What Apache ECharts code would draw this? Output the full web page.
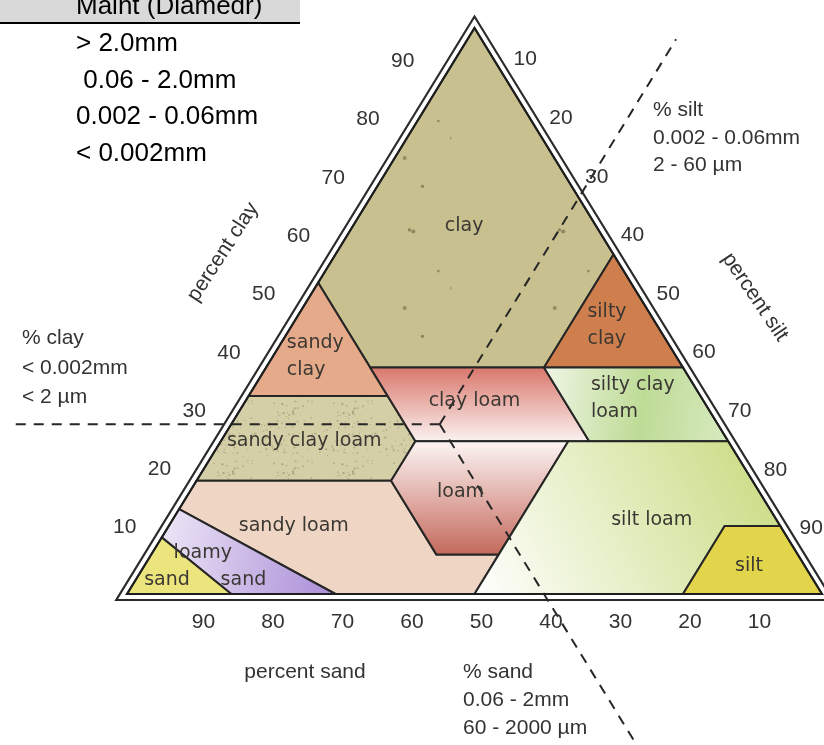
<!DOCTYPE html>
<html>
<head>
<meta charset="utf-8">
<script src="https://cdn.jsdelivr.net/npm/echarts@6/dist/echarts.min.js"></script>
<style>
  html, body { margin: 0; padding: 0; background: #fff; }
  #main { width: 824px; height: 745px; }
</style>
</head>
<body>
<div id="main"></div>
<script>
// texture classes; every corner is [sand %, clay %], silt = 100 - sand - clay
const clayArea          = [[45, 55], [0, 100], [0, 60], [20, 40], [45, 40]];
const sandyClayArea     = [[65, 35], [45, 55], [45, 35]];
const siltyClayArea     = [[20, 40], [0, 60], [0, 40]];
const sandyClayLoamArea = [[80, 20], [65, 35], [45, 35], [45, 27], [52, 20]];
const clayLoamArea      = [[45, 40], [20, 40], [20, 27], [45, 27]];
const siltyClayLoamArea = [[20, 40], [0, 40], [0, 27], [20, 27]];
const sandyLoamArea     = [[85, 15], [80, 20], [52, 20], [52, 7], [43, 7], [50, 0], [70, 0]];
const loamArea          = [[45, 27], [23, 27], [43, 7], [52, 7], [52, 20]];
const siltLoamArea      = [[23, 27], [0, 27], [0, 12], [8, 12], [20, 0], [50, 0], [43, 7]];
const loamySandArea     = [[90, 10], [85, 15], [70, 0], [85, 0]];
const sandArea          = [[100, 0], [90, 10], [85, 0]];
const siltArea          = [[8, 12], [0, 12], [0, 0], [20, 0]];

const classNames = ["clay", "sandy clay", "silty clay", "sandy clay loam", "clay loam", "silty clay loam",
                    "sandy loam", "loam", "silt loam", "loamy sand", "sand", "silt"];
const classAreas = [clayArea, sandyClayArea, siltyClayArea, sandyClayLoamArea, clayLoamArea, siltyClayLoamArea,
                    sandyLoamArea, loamArea, siltLoamArea, loamySandArea, sandArea, siltArea];

// labels written inside the triangle and where they sit, as [sand %, clay %]
const labelTexts = ["clay", "sandy\nclay", "silty\nclay", "sandy clay loam", "clay loam", "silty clay\nloam",
                    "sandy loam", "loam", "silt loam", "loamy", "sand", "sand", "silt"];
const labelAt    = [[19, 65], [56, 42], [10, 47.5], [61, 27], [33, 34], [16, 34.5],
                    [70, 12], [43, 18], [18, 13], [85.5, 7.2], [82, 2.5], [93, 2.5], [8, 5]];

// axis ticks
const sandTicks = [90, 80, 70, 60, 50, 40, 30, 20, 10];
const clayTicks = [10, 20, 30, 40, 50, 60, 70, 80, 90];
const siltTicks = [10, 20, 30, 40, 50, 60, 70, 80, 90];

// worked example drawn with dashed lines: 40% sand, 30% clay, 30% silt
const exampleSand = 40;
const exampleClay = 30;

// size classes in the box at top left
const sizeRows = ["> 2.0mm", " 0.06 - 2.0mm", "0.002 - 0.06mm", "< 0.002mm"];

const TICK_FONT = "21px 'Liberation Sans', Arial, sans-serif";
const LABEL_FONT = "19px 'DejaVu Sans', sans-serif";
const TABLE_FONT = "26px 'Liberation Sans', Arial, sans-serif";
const G = echarts.graphic;

function grad(x0, y0, x1, y1, c0, c1, c2) {
  const stops = c2 ? [{ offset: 0, color: c0 }, { offset: 0.55, color: c1 }, { offset: 1, color: c2 }]
                   : [{ offset: 0, color: c0 }, { offset: 1, color: c1 }];
  return new G.LinearGradient(x0, y0, x1, y1, stops);
}

// speckled fills (a fixed little hash, so the texture is the same every run)
function speckle(base, dot, size, count, rMin, rMax) {
  const c = document.createElement("canvas");
  c.width = c.height = size;
  const g = c.getContext("2d");
  g.fillStyle = base;
  g.fillRect(0, 0, size, size);
  g.fillStyle = dot;
  let s = 7;
  const next = () => { s = (s * 16807) % 2147483647; return s / 2147483647; };
  for (let i = 0; i < count; i++) {
    const x = next() * size, y = next() * size, r = rMin + next() * (rMax - rMin);
    g.globalAlpha = 0.35 + next() * 0.5;
    g.beginPath(); g.arc(x, y, r, 0, Math.PI * 2); g.fill();
  }
  return { image: c, repeat: "repeat" };
}

const fills = [
  speckle("#c8c08e", "#6f6a45", 150, 6, 1.2, 2.4),
  "#e4aa8a",
  "#cf7f4e",
  speckle("#d5cfa7", "#9f9874", 60, 90, 0.5, 1.1),
  grad(0, 0, 0, 1, "#d9766b", "#fbf3f1"),
  grad(0, 0, 1, 0.3, "#f0f6e6", "#bedb96", "#d6e9bd"),
  "#efd6c4",
  grad(0, 0, 0, 1, "#fdf6f5", "#c4685b"),
  grad(0, 1, 1, 0, "#ffffff", "#c6da7c"),
  grad(0, 0, 1, 0.4, "#eee7f7", "#ad91d8"),
  "#ece57e",
  "#e2d54b"
];

// [sand, clay] -> chart coordinates (x runs with silt, y with clay)
function toXY(p) {
  return [100 - p[0] - p[1] / 2, p[1]];
}

function offsetTriangle(P, d) {
  const cx = (P[0][0] + P[1][0] + P[2][0]) / 3, cy = (P[0][1] + P[1][1] + P[2][1]) / 3;
  const lines = [];
  for (let i = 0; i < 3; i++) {
    const a = P[i], b = P[(i + 1) % 3];
    const dx = b[0] - a[0], dy = b[1] - a[1], len = Math.hypot(dx, dy);
    let nx = -dy / len, ny = dx / len;
    if ((a[0] - cx) * nx + (a[1] - cy) * ny < 0) { nx = -nx; ny = -ny; }
    lines.push({ p: [a[0] + nx * d, a[1] + ny * d], v: [dx, dy] });
  }
  const out = [];
  for (let i = 0; i < 3; i++) {
    const l1 = lines[(i + 2) % 3], l2 = lines[i];
    const den = l1.v[0] * l2.v[1] - l1.v[1] * l2.v[0];
    const t = ((l2.p[0] - l1.p[0]) * l2.v[1] - (l2.p[1] - l1.p[1]) * l2.v[0]) / den;
    out.push([l1.p[0] + l1.v[0] * t, l1.p[1] + l1.v[1] * t]);
  }
  return out;
}

function tickSeries(ticks, corner, offset) {
  return {
    type: "custom",
    coordinateSystem: "cartesian2d",
    silent: true,
    clip: false,
    z: 6,
    data: ticks.map(v => toXY(corner(v)).concat(v)),
    renderItem: (params, api) => {
      const v = api.value(2);
      const p = api.coord([api.value(0), api.value(1)]);
      const o = offset(v);
      return {
        type: "text",
        x: p[0] + o[0],
        y: p[1] + o[1],
        style: { text: String(v), font: TICK_FONT, fill: "#333", textAlign: "center", textVerticalAlign: "middle" }
      };
    }
  };
}

function plainText(x, y, str, opt) {
  return Object.assign({
    type: "text",
    x: x,
    y: y,
    silent: true,
    style: {
      text: str,
      font: TICK_FONT,
      fill: "#333",
      textAlign: "left",
      textVerticalAlign: "middle"
    }
  }, opt || {});
}

const chart = echarts.init(document.getElementById("main"));

const option = {
  animation: false,
  grid: { left: 127, right: 2, top: 28, bottom: 151 },
  xAxis: { type: "value", min: 0, max: 100, show: false },
  yAxis: { type: "value", min: 0, max: 100, show: false },
  graphic: [
    { type: "rect", shape: { x: 0, y: 0, width: 300, height: 23 }, style: { fill: "#d9d9d9" }, silent: true },
    { type: "line", shape: { x1: 0, y1: 23, x2: 300, y2: 23 }, style: { stroke: "#000", lineWidth: 2 }, silent: true },
    plainText(76, 7, "Maint (Diamedr)", { style: { text: "Maint (Diamedr)", font: TABLE_FONT, fill: "#000", textAlign: "left", textVerticalAlign: "middle" } }),
    ...sizeRows.map((r, i) => plainText(76, 44 + i * 36.5, r, {
      style: { text: r, font: TABLE_FONT, fill: "#000", textAlign: "left", textVerticalAlign: "middle" }
    })),
    plainText(22, 338, "% clay"),
    plainText(22, 368, "< 0.002mm"),
    plainText(22, 397, "< 2 µm"),
    plainText(653, 110, "% silt"),
    plainText(653, 138, "0.002 - 0.06mm"),
    plainText(653, 165, "2 - 60 µm"),
    plainText(463, 672, "% sand"),
    plainText(463, 700, "0.06 - 2mm"),
    plainText(463, 728, "60 - 2000 µm"),
    plainText(305, 672, "percent sand", { style: { text: "percent sand", font: TICK_FONT, fill: "#333", textAlign: "center", textVerticalAlign: "middle" } }),
    plainText(223, 252, "percent clay", {
      rotation: 57 * Math.PI / 180,
      style: { text: "percent clay", font: TICK_FONT, fill: "#333", textAlign: "center", textVerticalAlign: "middle" }
    }),
    plainText(755, 297, "percent silt", {
      rotation: -56 * Math.PI / 180,
      style: { text: "percent silt", font: TICK_FONT, fill: "#333", textAlign: "center", textVerticalAlign: "middle" }
    })
  ],
  series: [
    {
      // texture classes
      type: "custom",
      coordinateSystem: "cartesian2d",
      silent: true,
      clip: false,
      z: 2,
      data: classNames.map((n, i) => toXY(classAreas[i][0])),
      renderItem: (params, api) => {
        const i = params.dataIndex;
        return {
          type: "polygon",
          shape: { points: classAreas[i].map(p => api.coord(toXY(p))) },
          style: { fill: fills[i], stroke: "#262626", lineWidth: 2, lineJoin: "miter" }
        };
      }
    },
    {
      // double frame round the triangle
      type: "custom",
      coordinateSystem: "cartesian2d",
      silent: true,
      clip: false,
      z: 3,
      data: [[0, 0]],
      renderItem: (params, api) => {
        const inner = [api.coord([0, 0]), api.coord([100, 0]), api.coord([50, 100])];
        const outer = offsetTriangle(inner, 6);
        return {
          type: "group",
          children: [
            { type: "polygon", shape: { points: inner }, style: { fill: null, stroke: "#1e1e1e", lineWidth: 2 } },
            { type: "polygon", shape: { points: outer }, style: { fill: null, stroke: "#2b2b2b", lineWidth: 2.2 } }
          ]
        };
      }
    },
    {
      // dashed reading lines of the example soil
      type: "custom",
      coordinateSystem: "cartesian2d",
      silent: true,
      clip: false,
      z: 4,
      data: [toXY([exampleSand, exampleClay])],
      renderItem: (params, api) => {
        const from = api.coord(toXY([exampleSand, exampleClay]));
        const ends = [
          [exampleSand + 62, exampleClay],        // clay: constant clay, out to the left
          [exampleSand - 68, exampleClay + 68],   // silt: constant silt, up to the right
          [exampleSand, -27]                      // sand: constant sand, down past the base
        ];
        return {
          type: "group",
          children: ends.map(e => {
            const to = api.coord(toXY(e));
            return {
              type: "line",
              shape: { x1: from[0], y1: from[1], x2: to[0], y2: to[1] },
              style: { stroke: "#262626", lineWidth: 2, lineDash: [10, 8] }
            };
          })
        };
      }
    },
    {
      // class names
      type: "custom",
      coordinateSystem: "cartesian2d",
      silent: true,
      clip: false,
      z: 5,
      data: labelAt.map(toXY),
      renderItem: (params, api) => {
        const t = labelTexts[params.dataIndex];
        const p = api.coord([api.value(0), api.value(1)]);
        const multi = t.indexOf("\n") >= 0;
        return {
          type: "text",
          x: p[0],
          y: p[1],
          style: {
            text: t,
            font: LABEL_FONT,
            lineHeight: 27,
            fill: "#3b3833",
            textAlign: multi ? "left" : "center",
            textVerticalAlign: "middle"
          }
        };
      }
    },
    tickSeries(sandTicks, v => [v, 0], v => [7, 28]),
    tickSeries(clayTicks, v => [100 - v, v], v => [-37, -8 - 0.17 * v]),
    tickSeries(siltTicks, v => [0, 100 - v], v => [15 + 0.1 * v, -27 + 0.2 * v])
  ]
};

chart.setOption(option);
</script>
</body>
</html>
